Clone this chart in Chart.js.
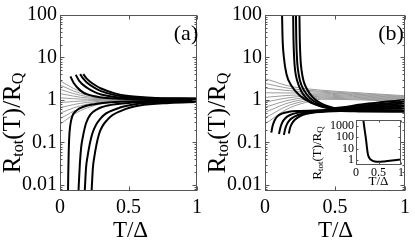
<!DOCTYPE html>
<html><head><meta charset="utf-8">
<script src="https://cdn.jsdelivr.net/npm/chart.js@4/dist/chart.umd.min.js"></script>
<style>
html,body{margin:0;padding:0;background:#fff;}
#wrap{position:relative;width:415px;height:249px;overflow:hidden;background:#fff;}
canvas{position:absolute;}
</style></head><body>
<div id="wrap">
<canvas id="ca" width="207" height="249" style="left:0;top:0"></canvas>
<canvas id="cb" width="210" height="249" style="left:205px;top:0"></canvas>
<canvas id="ci" width="110" height="82" style="left:300px;top:110px"></canvas>
</div>
<script>
// ---------- data ----------
const yTickVals = [0.01, 0.1, 1, 10, 100];
const yTickLabels = ['0.01', '0.1', '1', '10', '100'];
const xTickVals = [0, 0.5, 1];
const xTickLabels = ['0', '0.5', '1'];
const insetYTickVals = [1, 10, 100, 1000];
const insetYTickLabels = ['1', '10', '100', '1000'];

// panel (a): grey curves on a shared T grid
const aGrayT = [0, 0.05, 0.1, 0.15, 0.2, 0.3, 0.4, 0.5, 0.6, 0.8, 1];
const aGrayR = [
  [2.82, 2.29, 1.86, 1.58, 1.39, 1.18, 1.09, 1.04, 1.02, 1.005, 1.0],
  [2.24, 1.91, 1.62, 1.43, 1.29, 1.14, 1.07, 1.03, 1.02, 1.004, 1.0],
  [1.78, 1.58, 1.41, 1.29, 1.20, 1.10, 1.05, 1.02, 1.01, 1.0, 1.0],
  [1.41, 1.32, 1.23, 1.16, 1.12, 1.06, 1.03, 1.01, 1.01, 1.0, 1.0],
  [1.12, 1.10, 1.07, 1.05, 1.04, 1.02, 1.01, 1.0, 1.0, 1.0, 1.0],
  [0.871, 0.895, 0.920, 0.941, 0.957, 0.978, 0.989, 0.995, 0.997, 1.0, 1.0],
  [0.661, 0.718, 0.780, 0.834, 0.876, 0.936, 0.967, 0.983, 0.992, 0.998, 1.0],
  [0.490, 0.565, 0.652, 0.731, 0.796, 0.892, 0.944, 0.972, 0.986, 0.996, 1.0],
  [0.363, 0.445, 0.545, 0.640, 0.723, 0.850, 0.922, 0.960, 0.980, 0.995, 1.0],
  [0.269, 0.350, 0.455, 0.561, 0.657, 0.811, 0.900, 0.949, 0.974, 0.993, 1.0]
];
// panel (a): black curves
const aBlackT = [
  [0.076, 0.10, 0.15, 0.2, 0.3, 0.4, 0.6, 0.8, 1.0],
  [0.115, 0.14, 0.2, 0.25, 0.3, 0.4, 0.5, 0.7, 1.0],
  [0.147, 0.17, 0.2, 0.25, 0.3, 0.4, 0.5, 0.7, 1.0],
  [0.17, 0.19, 0.22, 0.26, 0.3, 0.4, 0.5, 0.7, 1.0],
  [0.058, 0.060, 0.063, 0.067, 0.075, 0.09, 0.12, 0.17, 0.25, 0.35, 0.5, 0.7, 1.0],
  [0.133, 0.137, 0.145, 0.155, 0.165, 0.19, 0.22, 0.27, 0.35, 0.5, 0.7, 1.0],
  [0.178, 0.183, 0.19, 0.2, 0.235, 0.3, 0.42, 0.55, 0.75, 1.0],
  [0.228, 0.233, 0.24, 0.25, 0.285, 0.35, 0.45, 0.58, 0.8, 1.0]
];
const aBlackR = [
  [3.6, 2.51, 1.66, 1.35, 1.15, 1.084, 1.052, 1.038, 1.03],
  [3.94, 2.82, 1.91, 1.55, 1.35, 1.175, 1.109, 1.067, 1.047],
  [4.07, 3.16, 2.51, 1.95, 1.62, 1.30, 1.17, 1.09, 1.064],
  [4.07, 3.31, 2.69, 2.19, 1.86, 1.43, 1.245, 1.12, 1.084],
  [0.005, 0.0158, 0.05, 0.126, 0.251, 0.417, 0.562, 0.692, 0.794, 0.871, 0.923, 0.955, 0.977],
  [0.005, 0.01, 0.0316, 0.0794, 0.126, 0.282, 0.447, 0.603, 0.741, 0.851, 0.912, 0.944],
  [0.005, 0.01, 0.0251, 0.0447, 0.158, 0.38, 0.631, 0.794, 0.891, 0.923],
  [0.005, 0.01, 0.0251, 0.0447, 0.158, 0.355, 0.562, 0.741, 0.851, 0.891]
];

// panel (b): grey curves on a shared T grid
const bGrayT = [0, 0.05, 0.1, 0.15, 0.2, 0.3, 0.4, 0.7, 1];
const bGrayR = [
  [3.16, 2.82, 2.48, 2.22, 2.04, 1.83, 1.70, 1.45, 1.26],
  [2.45, 2.27, 2.08, 1.93, 1.82, 1.69, 1.61, 1.39, 1.21],
  [1.91, 1.83, 1.75, 1.68, 1.63, 1.57, 1.53, 1.33, 1.17],
  [1.48, 1.47, 1.47, 1.46, 1.46, 1.45, 1.45, 1.28, 1.13],
  [1.15, 1.19, 1.23, 1.27, 1.30, 1.34, 1.37, 1.23, 1.09],
  [0.891, 0.957, 1.035, 1.105, 1.163, 1.243, 1.30, 1.178, 1.052],
  [0.676, 0.757, 0.857, 0.952, 1.032, 1.147, 1.228, 1.131, 1.016],
  [0.513, 0.598, 0.710, 0.820, 0.916, 1.058, 1.162, 1.085, 0.980],
  [0.380, 0.463, 0.578, 0.698, 0.805, 0.973, 1.099, 1.042, 0.945],
  [0.275, 0.353, 0.466, 0.589, 0.705, 0.891, 1.04, 1.0, 0.912]
];
// panel (b): black curves
const bBlackT = [
  [0.12, 0.125, 0.135, 0.154, 0.19, 0.25, 0.33, 0.4, 0.48, 0.7, 1.0],
  [0.2, 0.203, 0.208, 0.215, 0.23, 0.26, 0.3, 0.35, 0.42, 0.5, 0.7, 1.0],
  [0.22, 0.223, 0.228, 0.236, 0.25, 0.28, 0.32, 0.37, 0.44, 0.52, 0.7, 1.0],
  [0.245, 0.248, 0.253, 0.261, 0.275, 0.3, 0.34, 0.39, 0.46, 0.54, 0.7, 1.0],
  [0.045, 0.055, 0.07, 0.09, 0.12, 0.17, 0.25, 0.35, 0.48, 0.7, 1.0],
  [0.10, 0.11, 0.125, 0.145, 0.175, 0.22, 0.3, 0.4, 0.5, 0.7, 1.0],
  [0.135, 0.145, 0.16, 0.18, 0.21, 0.26, 0.33, 0.42, 0.52, 0.7, 1.0],
  [0.17, 0.18, 0.195, 0.215, 0.245, 0.29, 0.36, 0.44, 0.54, 0.7, 1.0]
];
const bBlackR = [
  [200, 31.6, 10, 3.98, 2.14, 1.26, 0.851, 0.708, 0.646, 0.794, 1.0],
  [200, 31.6, 10, 5.01, 2.82, 1.58, 1.07, 0.832, 0.676, 0.631, 0.741, 0.912],
  [200, 31.6, 10, 5.01, 2.82, 1.66, 1.12, 0.851, 0.676, 0.617, 0.70, 0.832],
  [200, 31.6, 10, 5.01, 2.82, 1.78, 1.17, 0.871, 0.692, 0.61, 0.661, 0.759],
  [0.17, 0.251, 0.339, 0.417, 0.479, 0.525, 0.55, 0.562, 0.589, 0.631, 0.692],
  [0.158, 0.224, 0.302, 0.372, 0.437, 0.49, 0.525, 0.55, 0.575, 0.596, 0.631],
  [0.151, 0.214, 0.282, 0.347, 0.407, 0.468, 0.513, 0.537, 0.562, 0.562, 0.575],
  [0.162, 0.224, 0.288, 0.347, 0.407, 0.468, 0.513, 0.537, 0.55, 0.537, 0.525]
];

// inset of panel (b)
const insetT = [0.16, 0.19, 0.22, 0.24, 0.26, 0.28, 0.31, 0.36, 0.42, 0.5, 0.6, 0.7, 0.85, 1.0];
const insetR = [3981, 501, 75.9, 15.8, 3.98, 2.0, 1.26, 0.891, 0.741, 0.692, 0.724, 0.813, 0.955, 1.10];

// ---------- styling ----------
const SERIF = '"Liberation Serif", "DejaVu Serif", serif';
const GRAY = '#9c9c9c';
const FRAME = '#555';

function drawRich(ctx, segs, x, y, rot) {
  ctx.save();
  ctx.translate(x, y);
  if (rot) ctx.rotate(rot);
  ctx.textBaseline = 'middle';
  ctx.textAlign = 'left';
  ctx.fillStyle = '#000';
  let total = 0;
  const w = segs.map(s => { ctx.font = s.size + 'px ' + SERIF; const m = ctx.measureText(s.t).width; total += m; return m; });
  let cx = -total / 2;
  segs.forEach((s, i) => {
    ctx.font = s.size + 'px ' + SERIF;
    ctx.fillText(s.t, cx, s.dy || 0);
    cx += w[i];
  });
  ctx.restore();
}

const decor = {
  id: 'decor',
  beforeDatasetsDraw(chart, a, o) {
    if (o.bg) {
      const c = chart.chartArea, ctx = chart.ctx;
      ctx.save(); ctx.fillStyle = '#fff';
      ctx.fillRect(c.left, c.top, c.right - c.left, c.bottom - c.top);
      ctx.restore();
    }
  },
  afterDraw(chart, a, o) {
    const ctx = chart.ctx, c = chart.chartArea;
    ctx.save();
    ctx.strokeStyle = FRAME; ctx.lineWidth = 1;
    const L = Math.round(c.left) + 0.5, R = Math.round(c.right) - 0.5,
          T = Math.round(c.top) + 0.5, B = Math.round(c.bottom) - 0.5;
    ctx.strokeRect(L, T, R - L, B - T);
    const seg = (x1, y1, x2, y2) => { ctx.beginPath(); ctx.moveTo(x1, y1); ctx.lineTo(x2, y2); ctx.stroke(); };
    const ys = chart.scales.y;
    const lo = ys.min, hi = ys.max;
    for (let e = Math.floor(Math.log10(lo)); e <= Math.ceil(Math.log10(hi)); e++) {
      for (let m = 1; m <= 9; m++) {
        const v = m * Math.pow(10, e);
        if (v < lo || v > hi) continue;
        const len = m === 1 ? o.major : o.minor;
        if (!len) continue;
        const py = Math.round(ys.getPixelForValue(v)) + 0.5;
        seg(L, py, L + len, py); seg(R, py, R - len, py);
      }
    }
    const xs = chart.scales.x;
    xTickVals.forEach(v => {
      const px = Math.round(xs.getPixelForValue(v)) + 0.5;
      seg(px, B, px, B - o.major); seg(px, T, px, T + o.major);
    });
    ctx.restore();
    (o.texts || []).forEach(t => drawRich(ctx, t.segs, t.x, t.y, t.rot));
  }
};

function lineSet(T, R, color, width, order) {
  return {
    data: T.map((t, i) => ({ x: t, y: R[i] })),
    borderColor: color, borderWidth: width, pointRadius: 0, fill: false,
    cubicInterpolationMode: 'monotone', clip: 0, order: order
  };
}

function makeScales(opt) {
  return {
    x: {
      type: 'linear', min: 0, max: 1,
      afterBuildTicks: s => { s.ticks = xTickVals.map(v => ({ value: v })); },
      ticks: { callback: (v, i) => xTickLabels[i], font: { family: SERIF, size: opt.fs }, color: '#000',
               padding: opt.xpad, maxRotation: 0, autoSkip: false },
      grid: { display: false, drawTicks: false }, border: { display: false },
      afterFit: s => { s.height = opt.xh; }
    },
    y: {
      type: 'logarithmic', min: opt.ymin, max: opt.ymax,
      afterBuildTicks: s => { s.ticks = opt.yv.map(v => ({ value: v })); },
      ticks: { callback: (v, i) => opt.yl[i], font: { family: SERIF, size: opt.fs }, color: '#000',
               padding: opt.ypad, autoSkip: false },
      grid: { display: false, drawTicks: false }, border: { display: false },
      afterFit: s => { s.width = opt.yw; }
    }
  };
}

const yTitle = (x, y, big, small, dy) => ({ x: x, y: y, rot: -Math.PI / 2, segs: [
  { t: 'R', size: big }, { t: 'tot', size: small, dy: dy }, { t: '(T)/R', size: big }, { t: 'Q', size: small, dy: dy }] });
const xTitle = (x, y, size) => ({ x: x, y: y, segs: [{ t: 'T/\u0394', size: size }] });

function mainChart(id, gT, gR, bT, bR, label, padRight) {
  const ds = [];
  bT.forEach((t, i) => ds.push(lineSet(t, bR[i], '#000', 2, 0)));
  gR.forEach(r => ds.push(lineSet(gT, r, GRAY, 1, 1)));
  return new Chart(document.getElementById(id), {
    type: 'line',
    data: { datasets: ds },
    options: {
      responsive: false, animation: false, events: [],
      layout: { padding: { left: 0, right: padRight, top: 14, bottom: 0 } },
      scales: makeScales({ fs: 20, xpad: 5, xh: 58, ypad: 3, yw: 60, ymin: 0.0072, ymax: 100, yv: yTickVals, yl: yTickLabels }),
      plugins: {
        legend: { display: false }, tooltip: { enabled: false },
        decor: { major: 4, minor: 2, texts: [
          yTitle(13, 123, 25, 16, 6),
          xTitle(130.5, 231, 23),
          { x: 186, y: 34, segs: [{ t: label, size: 22 }] }
        ] }
      }
    },
    plugins: [decor]
  });
}

mainChart('ca', aGrayT, aGrayR, aBlackT, aBlackR, '(a)', 6);
mainChart('cb', bGrayT, bGrayR, bBlackT, bBlackR, '(b)', 9);

new Chart(document.getElementById('ci'), {
  type: 'line',
  data: { datasets: [lineSet(insetT, insetR, '#000', 2, 0)] },
  options: {
    responsive: false, animation: false, events: [],
    layout: { padding: { left: 0, right: 9, top: 10, bottom: 0 } },
    scales: makeScales({ fs: 12, xpad: 1, xh: 27, ypad: 2, yw: 56, ymin: 0.363, ymax: 3162, yv: insetYTickVals, yl: insetYTickLabels }),
    plugins: {
      legend: { display: false }, tooltip: { enabled: false },
      decor: { bg: true, major: 2, minor: 0, texts: [
        yTitle(18, 43, 13, 9, 3),
        xTitle(78.5, 72, 13)
      ] }
    }
  },
  plugins: [decor]
});
</script>
</body></html>
